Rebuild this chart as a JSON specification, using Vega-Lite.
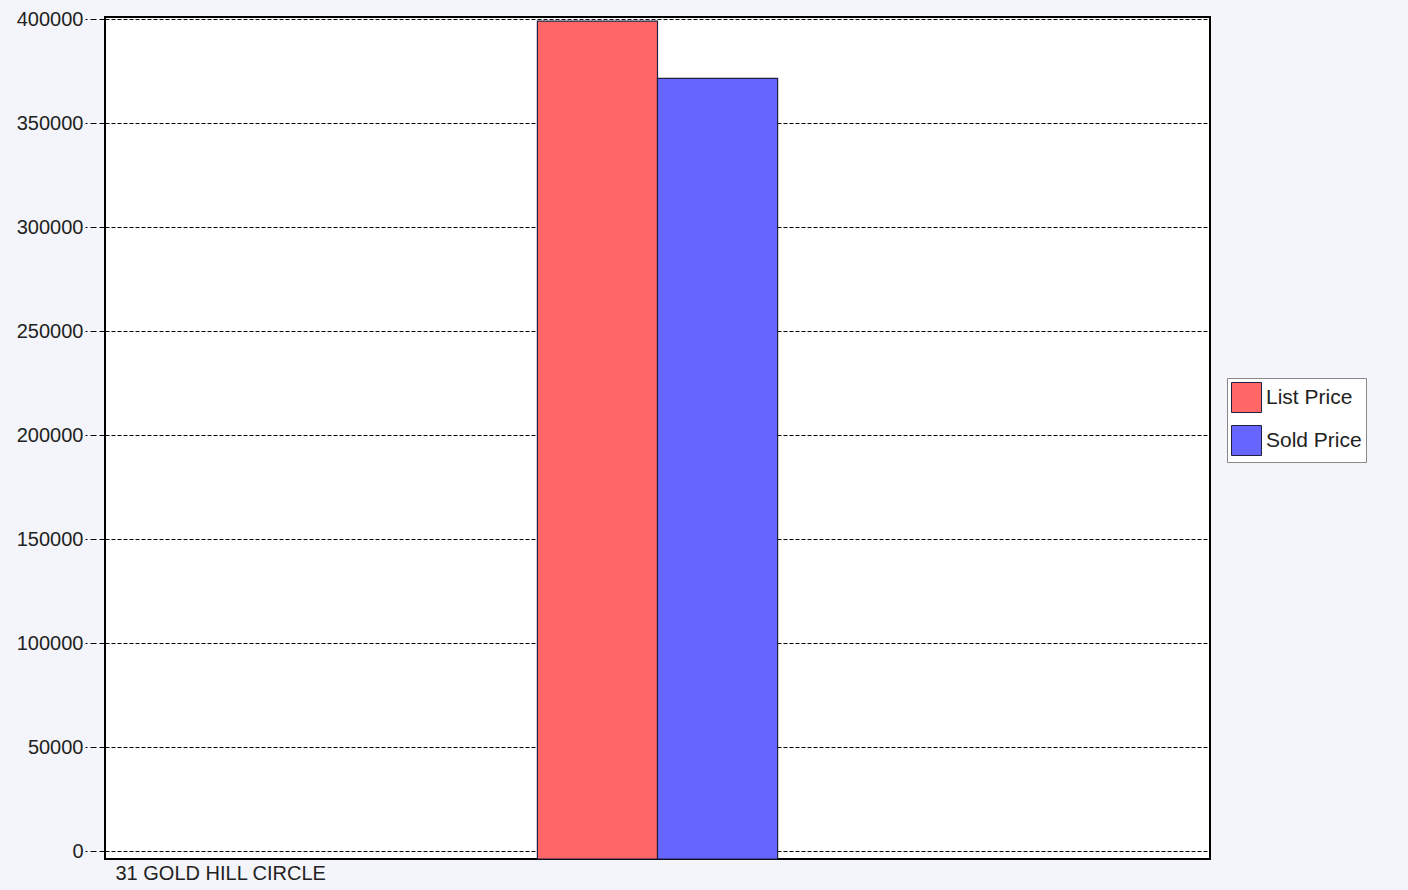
{
  "$schema": "https://vega.github.io/schema/vega-lite/v6.json",
  "width": 1105,
  "height": 842,
  "autosize": {"type": "none"},
  "padding": {"left": 105, "top": 17, "right": 198, "bottom": 31},
  "background": "#f4f5fa",
  "config": {
    "view": {"fill": "white", "stroke": "black", "strokeWidth": 2},
    "font": "Liberation Sans"
  },
  "data": {
    "values": [
      {"address": "31 GOLD HILL CIRCLE", "series": "List Price", "price": 399000},
      {"address": "31 GOLD HILL CIRCLE", "series": "Sold Price", "price": 371500}
    ]
  },
  "mark": {"type": "bar", "stroke": "#202040", "strokeWidth": 1.2},
  "encoding": {
    "x": {
      "field": "series",
      "type": "nominal",
      "scale": {
        "domain": ["_1", "_2", "_3", "List Price", "Sold Price", "_4", "_5", "_6"],
        "paddingInner": 0,
        "paddingOuter": 0.6
      },
      "axis": {
        "labels": false,
        "ticks": false,
        "domain": false,
        "title": "31 GOLD HILL CIRCLE",
        "titleAnchor": "start",
        "titleFontWeight": "normal",
        "titleFontSize": 20,
        "titleColor": "#222",
        "titlePadding": 4,
        "titleX": 10
      }
    },
    "y": {
      "field": "price",
      "type": "quantitative",
      "scale": {"domain": [-3800, 401000], "nice": false, "zero": false},
      "axis": {
        "values": [0, 50000, 100000, 150000, 200000, 250000, 300000, 350000, 400000],
        "format": "d",
        "title": null,
        "domain": false,
        "gridColor": "black",
        "gridDash": [4, 2],
        "gridOpacity": 1,
        "tickColor": "black",
        "tickSize": 20,
        "tickDash": [6, 3],
        "labelFontSize": 20,
        "labelColor": "#222",
        "labelPadding": 2
      }
    },
    "y2": {"datum": -3800},
    "color": {
      "field": "series",
      "type": "nominal",
      "scale": {"domain": ["List Price", "Sold Price"], "range": ["#ff6666", "#6666ff"]},
      "legend": {
        "title": null,
        "orient": "none",
        "legendX": 1122,
        "legendY": 361,
        "symbolType": "square",
        "symbolSize": 900,
        "symbolOpacity": 1,
        "symbolStrokeColor": "#202040",
        "symbolStrokeWidth": 1,
        "labelFontSize": 21,
        "labelColor": "#222",
        "rowPadding": 8,
        "padding": 4,
        "strokeColor": "#888",
        "fillColor": "white"
      }
    }
  }
}
